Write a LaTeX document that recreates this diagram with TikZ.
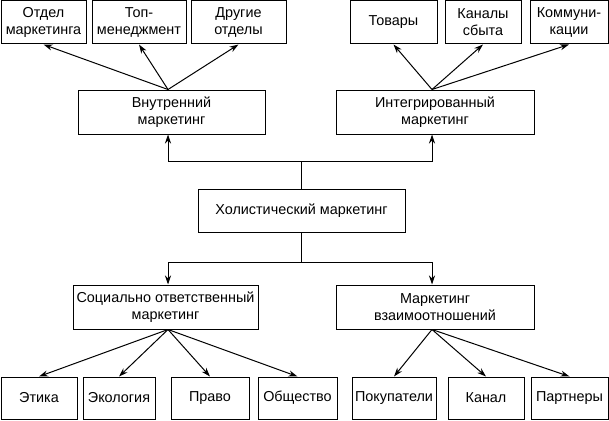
\documentclass[tikz,border=0pt]{standalone}
\usepackage{fontspec}
\setmainfont{Liberation Sans}
\usetikzlibrary{arrows.meta}

\begin{document}
\begin{tikzpicture}[x=1pt, y=-1pt,
    box/.style={draw, line width=1pt, align=center, inner sep=0pt,
      font=\fontsize{14.4}{17}\selectfont},
    arr/.style={line width=1pt, -{Stealth[length=9pt, width=6pt]}}]
      \useasboundingbox (0,0) rectangle (609,420);

      % Center
      \node[box, minimum width=207, minimum height=43] (holist) at (301.5,210.5) {Холистический маркетинг};

      % Second level
      \node[box, minimum width=187, minimum height=44] (vnutr) at (171.5,112) {Внутренний\\маркетинг};
      \node[box, minimum width=198, minimum height=44] (integr) at (435,112) {Интегрированный\\маркетинг};
      \node[box, minimum width=185, minimum height=44] (social) at (165.5,307) {Социально ответственный\\маркетинг};
      \node[box, minimum width=198, minimum height=44] (vzaim) at (435,307) {Маркетинг\\взаимоотношений};

      % Top row
      \node[box, minimum width=85, minimum height=43] (otdel) at (43.5,22.5) {Отдел\\маркетинга};
      \node[box, minimum width=94, minimum height=43] (topmen) at (139,22.5) {Топ-\\менеджмент};
      \node[box, minimum width=95, minimum height=43] (drugie) at (238.5,22.5) {Другие\\отделы};
      \node[box, minimum width=87, minimum height=43] (tovary) at (393.5,22.5) {Товары};
      \node[box, minimum width=76, minimum height=43] (kanaly) at (483,22.5) {Каналы\\сбыта};
      \node[box, minimum width=78, minimum height=43] (kommun) at (569,22.5) {Коммуни-\\кации};

      % Bottom row
      \node[box, minimum width=76, minimum height=42] (etika) at (39,398) {Этика};
      \node[box, minimum width=72, minimum height=42] (ekolog) at (119,398) {Экология};
      \node[box, minimum width=78, minimum height=42] (pravo) at (210,398) {Право};
      \node[box, minimum width=79, minimum height=42] (obshch) at (297.5,398) {Общество};
      \node[box, minimum width=84, minimum height=42] (pokup) at (394,398) {Покупатели};
      \node[box, minimum width=76, minimum height=42] (kanal) at (486,398) {Канал};
      \node[box, minimum width=77, minimum height=42] (partn) at (569.5,398) {Партнеры};

      % Hubs
      \draw[line width=1pt] (holist.north) -- ++(0,-27) coordinate (hubtop);
      \draw[line width=1pt] (holist.south) -- ++(0,30) coordinate (hubbot);
      \draw[arr] (hubtop) -| ([xshift=-3.5pt]vnutr.south);
      \draw[arr] (hubtop) -| ([xshift=-3pt]integr.south);
      \draw[arr] (hubbot) -| ([xshift=2.5pt]social.north);
      \draw[arr] (hubbot) -| ([xshift=-3pt]vzaim.north);

      % Fans
      \foreach \n in {otdel, topmen, drugie}
        \draw[arr] ([xshift=-3.5pt]vnutr.north) -- (\n.south);
      \foreach \n in {tovary, kanaly, kommun}
        \draw[arr] ([xshift=-3pt]integr.north) -- (\n.south);
      \foreach \n in {etika, ekolog, pravo, obshch}
        \draw[arr] ([xshift=2.5pt]social.south) -- (\n.north);
      \foreach \n in {pokup, kanal, partn}
        \draw[arr] ([xshift=-3pt]vzaim.south) -- (\n.north);
    \end{tikzpicture}
\end{document}
